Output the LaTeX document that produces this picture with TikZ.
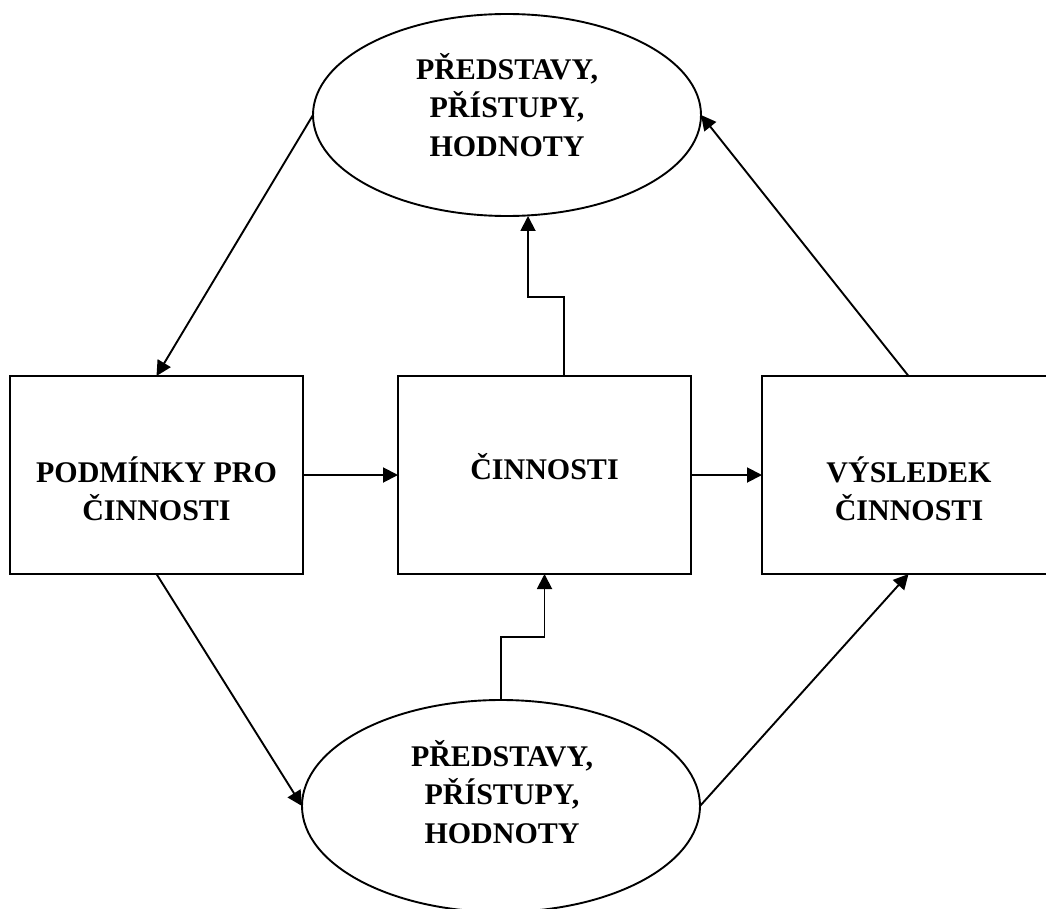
\documentclass[tikz,border=0pt]{standalone}
\usepackage{fontspec}
\setmainfont{Liberation Serif}
\usetikzlibrary{arrows.meta,shapes.geometric}

\tikzset{
  frame/.style={draw=black, line width=1.9pt, minimum width=293pt, minimum height=198pt, inner sep=0pt, outer sep=0pt},
  oval/.style={draw=black, line width=1.9pt, ellipse, inner sep=0pt, outer sep=0pt},
  caption/.style={inner sep=0pt, align=center, font=\fontsize{30}{38.5}\selectfont\bfseries},
  link/.style={line width=1.9pt, -{Triangle[length=15pt,width=15pt]}},
}

\begin{document}
\begin{tikzpicture}[x=1pt, y=-1pt]
  \clip (0,0) rectangle (1046,909);

  % ovals
  \node[oval, minimum width=388pt, minimum height=202pt] (top) at (507,115) {};
  \node[oval, minimum width=398pt, minimum height=212pt] (bot) at (501,806) {};

  % boxes
  \node[frame] (lbox) at (156.5,475) {};
  \node[frame] (mbox) at (544.5,475) {};
  \node[frame] (rbox) at (908.5,475) {};

  % texts
  \node[caption] (toptext) at (507,105) {PŘEDSTAVY,\\PŘÍSTUPY,\\HODNOTY};
  \node[caption] (bottext) at (502,792) {PŘEDSTAVY,\\PŘÍSTUPY,\\HODNOTY};
  \node[caption] (ltext) at (156.5,489) {PODMÍNKY PRO\\ČINNOSTI};
  \node[caption] (mtext) at (544.5,467) {ČINNOSTI};
  \node[caption] (rtext) at (909,489) {VÝSLEDEK\\ČINNOSTI};

  % bends of the stepped connectors
  \coordinate (u1) at (564,297);
  \coordinate (u2) at (528,297);
  \coordinate (d1) at (544.5,637);

  % connectors
  \draw[link] (lbox.east) -- (mbox.west);
  \draw[link] (mbox.east) -- (rbox.west);
  \draw[link] (top.west) -- (lbox.north);
  \draw[link] (lbox.south) -- (bot.west);
  \draw[link] (bot.east) -- (rbox.south);
  \draw[link] (rbox.north) -- (top.east);
  \draw[link] (mbox.north -| u1) -- (u1) -- (u2) -- (u2 |- top.south);
  \draw[link] (bot.north) |- (d1) -- (mbox.south);
\end{tikzpicture}
\end{document}
